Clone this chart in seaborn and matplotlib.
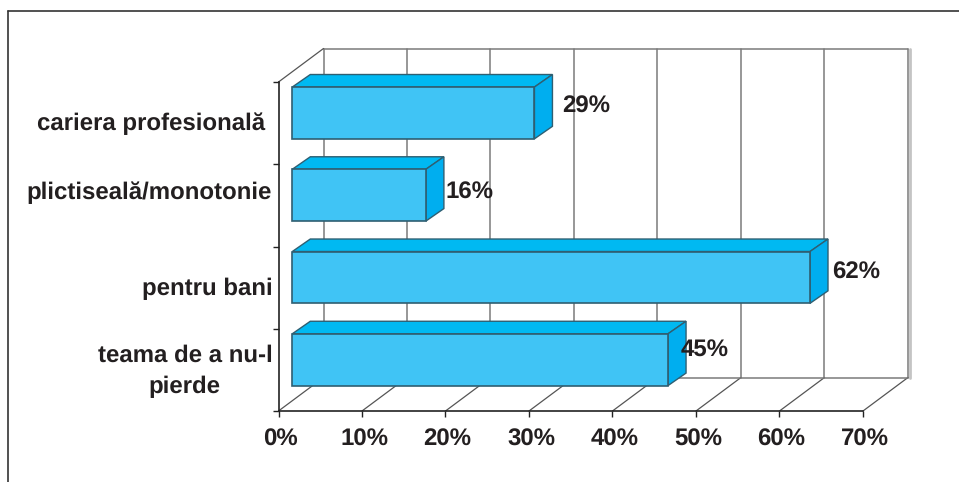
import matplotlib
matplotlib.use("Agg")
import matplotlib.pyplot as plt
from matplotlib.lines import Line2D
from matplotlib.patches import Polygon
from matplotlib.transforms import ScaledTranslation
import pandas as pd
import seaborn as sns

categories = ["cariera profesională ", "plictiseală/monotonie", "pentru bani", "teama de a nu-l\npierde"]
values = [29, 16, 62, 45]
value_labels = ["29%", "16%", "62%", "45%"]
x_ticks = [0, 10, 20, 30, 40, 50, 60, 70]

sns.set_theme(style="white")
plt.rcParams["font.family"] = ["Liberation Sans", "DejaVu Sans"]
plt.rcParams["text.hinting"] = "none"
plt.rcParams["text.hinting_factor"] = 1
INK = "#231f20"
W, H = 959, 482

fig = plt.figure(figsize=(W / 100, H / 100), dpi=100)
ax = fig.add_axes([278.5 / W, (H - 411) / H, 584.5 / W, 329 / H])
df = pd.DataFrame({"cat": categories, "val": values})
sns.barplot(data=df, y="cat", x="val", orient="h", color="#40c4f5", saturation=1,
            width=0.63, edgecolor="#2f5f72", linewidth=1.2, ax=ax, zorder=3)
ax.set_xlim(0, 70)
ax.set_ylim(3.5, -0.5)
ax.set_xlabel(""); ax.set_ylabel("")

# pixels -> data units, the fake 3d is all worked out from these
px_x = 70 / 584.5
px_y = 4 / 329
wall_dx, wall_dy = 45 * px_x, -33.5 * px_y
bar_dx, bar_dy = 18 * px_x, -12.5 * px_y
shift_x, shift_y = 13.8 * px_x, -10.2 * px_y

# back wall and floor
line_kw = dict(color="#7a7a7a", lw=1.1, clip_on=False, zorder=1)
y_top, y_bot = -0.5, 3.5
for v in x_ticks:
    ax.plot([v + wall_dx] * 2, [y_top + wall_dy, y_bot + wall_dy], **line_kw)
    ax.plot([v, v + wall_dx], [y_bot, y_bot + wall_dy], **{**line_kw, "lw": 0.9, "color": "#555555"})
ax.plot([70 + wall_dx + 1.6 * px_x] * 2, [y_top + wall_dy, y_bot + wall_dy], color="#c4c4c4", lw=2, clip_on=False, zorder=1)
ax.plot([wall_dx, 70 + wall_dx], [y_top + wall_dy] * 2, **line_kw)
ax.plot([wall_dx, 70 + wall_dx], [y_bot + wall_dy] * 2, **line_kw)
ax.plot([0, wall_dx], [y_top, y_top + wall_dy], **{**line_kw, "lw": 0.9, "color": "#555555"})

# move the bars off the wall, then add top and side faces
for i, bar in enumerate(ax.patches):
    bar.set_x(bar.get_x() + shift_x)
    bar.set_y(bar.get_y() + shift_y)
    bar.set_clip_on(False)
    x0, x1 = bar.get_x(), bar.get_x() + bar.get_width()
    y0, y1 = bar.get_y(), bar.get_y() + bar.get_height()
    top = [(x0, y0), (x1, y0), (x1 + bar_dx, y0 + bar_dy), (x0 + bar_dx, y0 + bar_dy)]
    side = [(x1, y0), (x1 + bar_dx, y0 + bar_dy), (x1 + bar_dx, y1 + bar_dy), (x1, y1)]
    ax.add_patch(Polygon(top, fc="#00b9f2", ec="#2f5f72", lw=1, clip_on=False, zorder=2.9))
    ax.add_patch(Polygon(side, fc="#00aeef", ec="#2f5f72", lw=1, clip_on=False, zorder=2.9))

# value labels, hand placed from the bar ends
label_off = [(28, 6), (20, 3), (22, 5), (13, 10)]
for bar, txt, (ox, oy) in zip(ax.patches[:4], value_labels, label_off):
    ax.annotate(txt, (bar.get_x() + bar.get_width(), bar.get_y() + bar.get_height() / 2),
                xytext=(ox * 0.72, oy * 0.72), textcoords="offset points", ha="left", va="center",
                fontsize=17, fontweight="bold", color=INK, zorder=5)

sns.despine(ax=ax)
for s in ["left", "bottom"]:
    ax.spines[s].set_color("#222222"); ax.spines[s].set_linewidth(1.2); ax.spines[s].set_zorder(2)

ax.set_xticks(x_ticks, [f"{v}%" for v in x_ticks], fontsize=17, fontweight="bold", color=INK)
ax.tick_params(axis="x", bottom=True, length=4.5, width=1, color="#222222", pad=8)
for lab in ax.get_xticklabels():
    lab.set_transform(lab.get_transform() + ScaledTranslation(0.02, 0, fig.dpi_scale_trans))

# tick marks between categories, labels centred on them as minor ticks
ax.set_yticks([-0.5, 0.5, 1.5, 2.5, 3.5], [""] * 5)
ax.tick_params(axis="y", which="major", left=True, length=4.5, width=1, color="#222222")
ax.set_yticks([0, 1, 2, 3], minor=True)
ax.set_yticklabels(categories, minor=True, fontsize=17.2, fontweight="bold", color=INK,
                   multialignment="center", linespacing=1.55)
ax.tick_params(axis="y", which="minor", left=False, length=0, pad=4.5)
label_dy = [2, 15, 1, 6]
for lab, dy in zip(ax.get_yticklabels(minor=True), label_dy):
    lab.set_transform(lab.get_transform() + ScaledTranslation(0, dy / 100, fig.dpi_scale_trans))

# outer frame, cut off at the right and bottom of the picture
fig.add_artist(Line2D([8 / W, 8 / W], [0, (H - 11) / H], color="#333333", lw=1.2))
fig.add_artist(Line2D([8 / W, 1], [(H - 11) / H] * 2, color="#333333", lw=1.2))

fig.savefig("out.png", dpi=100)
